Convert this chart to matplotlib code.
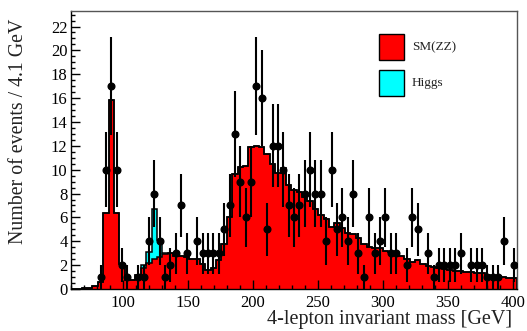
import numpy as np
import matplotlib
matplotlib.use("Agg")
import matplotlib.pyplot as plt
from matplotlib.ticker import MultipleLocator

plt.rcParams['font.family'] = ['Liberation Serif', 'DejaVu Serif']

# binning: 83 bins of ~4.1 GeV starting at 60 GeV
x_min = 60.0
bin_width = 4.136
n_bins = 83

# observed events per bin
data = [0, 0, 0, 0, 0, 1, 10, 17, 10, 2,
        1, 0, 1, 1, 4, 8, 4, 1, 2, 3,
        7, 3, 0, 4, 3, 3, 3, 3, 5, 7,
        13, 9, 6, 9, 17, 16, 5, 12, 12, 10,
        7, 6, 7, 8, 10, 8, 8, 4, 10, 5,
        6, 4, 8, 3, 1, 6, 3, 4, 6, 3,
        3, 0, 2, 6, 5, 0, 3, 1, 2, 2,
        2, 2, 3, 0, 2, 2, 2, 1, 1, 1,
        4, 0, 2]

# expected total (SM ZZ + Higgs) per bin
total = [0, 0, 0.05, 0.1, 0.25, 0.6, 6.33, 15.85, 6.33, 2.1,
         0.75, 0.75, 1.2, 2.0, 3.1, 6.7, 4.1, 3.05, 3.0, 2.8,
         2.8, 2.7, 2.55, 2.5, 2.1, 1.6, 1.8, 2.4, 3.8, 6.05,
         9.6, 10.2, 10.3, 11.9, 12.0, 11.9, 11.3, 10.5, 9.7, 10.1,
         8.7, 8.3, 8.1, 7.7, 7.4, 6.7, 6.2, 5.9, 5.2, 5.5,
         5.1, 4.7, 4.6, 4.3, 3.8, 3.5, 3.45, 3.4, 3.2, 3.1,
         2.95, 2.75, 2.55, 2.3, 2.4, 2.1, 1.9, 1.85, 1.75, 1.65,
         1.6, 1.55, 1.5, 1.45, 1.4, 1.35, 1.3, 1.2, 1.1, 1.05,
         1.0, 0.95, 0.9]

# Higgs signal part (bins 13-17)
higgs = [0.0] * n_bins
higgs[13] = 0.25
higgs[14] = 0.9
higgs[15] = 4.2
higgs[16] = 1.4
higgs[17] = 0.1

edges = x_min + bin_width * np.arange(n_bins + 1)
centers = 0.5 * (edges[:-1] + edges[1:])
total = np.array(total)
sm = total - np.array(higgs)
data = np.array(data, dtype=float)

fig = plt.figure(figsize=(5.27, 3.31), dpi=100)
ax = fig.add_axes([71 / 527, 42 / 331, 446 / 527, 278 / 331])

ax.stairs(sm, edges, fill=True, color='#ff0000', zorder=1)
ax.stairs(total, edges, baseline=sm, fill=True, color='#00ffff', zorder=1)
ax.stairs(sm, edges, color='black', linewidth=1.1, zorder=2)
ax.stairs(total, edges, color='black', linewidth=1.1, zorder=2)

nz = data > 0
ax.errorbar(centers[nz], data[nz], yerr=np.sqrt(data[nz]), fmt='o',
            color='black', markersize=4.8, elinewidth=1.5, capsize=0, zorder=3)

ax.set_xlim(edges[0], edges[-1])
ax.set_ylim(0, 23.3)
ax.xaxis.set_major_locator(MultipleLocator(50))
ax.xaxis.set_minor_locator(MultipleLocator(10))
ax.yaxis.set_major_locator(MultipleLocator(2))
ax.yaxis.set_minor_locator(MultipleLocator(0.5))
ax.tick_params(which='both', direction='in', top=False, right=False,
               labelsize=12, width=1.0, color='black', labelcolor='black')
ax.tick_params(which='major', length=6.5)
ax.tick_params(which='minor', length=3.2)
ax.tick_params(axis='x', pad=4)
ax.tick_params(axis='y', pad=2.5)

for s in ['left', 'bottom']:
    ax.spines[s].set_color('black')
    ax.spines[s].set_linewidth(1.0)
for s in ['top', 'right']:
    ax.spines[s].set_color('#555555')
    ax.spines[s].set_linewidth(1.0)

fig.text(512 / 527, 1 - 324 / 331, '4-lepton invariant mass [GeV]',
         ha='right', va='baseline', fontsize=14.5, color='#222222')
fig.text(19 / 527, 1 - 19 / 331, 'Number of events / 4.1 GeV',
         rotation=90, ha='center', va='top', fontsize=14.3, color='#222222')

# legend boxes
leg_items = [('SM(ZZ)', '#ff0000'), ('Higgs', '#00ffff')]
for i, (name, col) in enumerate(leg_items):
    y0 = 1 - (59.5 + i * 36) / 331
    fig.patches.append(plt.Rectangle((379 / 527, y0), 25 / 527, 25.5 / 331,
                                     transform=fig.transFigure, facecolor=col,
                                     edgecolor='black', linewidth=1.0))
    fig.text(412 / 527, y0 + 12.7 / 331, name, ha='left', va='center',
             fontsize=9.5, color='#222222')

fig.savefig('out.png', dpi=100)
